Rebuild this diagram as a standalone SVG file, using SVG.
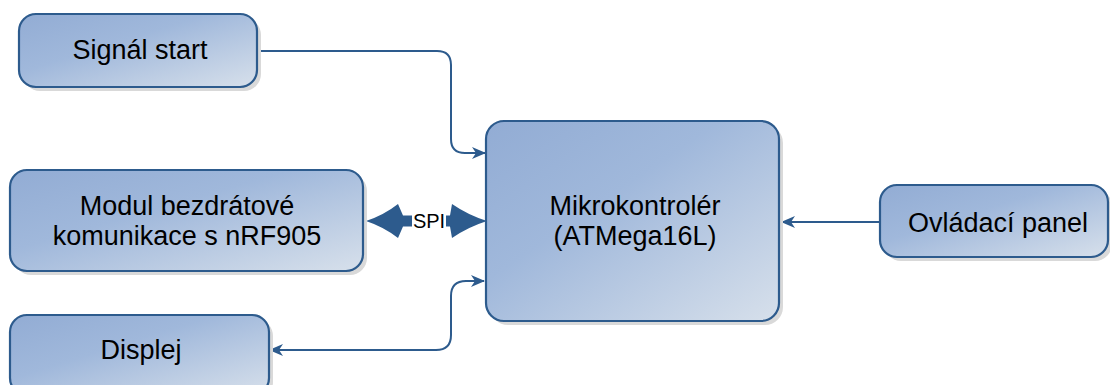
<svg xmlns="http://www.w3.org/2000/svg" width="1110" height="385" viewBox="0 0 1110 385">
<style>
.box{fill:url(#g);stroke:#2d5b8d;stroke-width:2.2}
.sh{fill:#d9d9d9}
.t{font-family:"Liberation Sans",Arial,sans-serif;font-size:27px;fill:#000;text-anchor:middle}
.c{fill:none;stroke:#2d5b8d;stroke-width:2}
</style>
<defs>
<linearGradient id="g" x1="0" y1="0" x2="1" y2="1">
<stop offset="0" stop-color="#92acd4"/>
<stop offset="0.4" stop-color="#a0b8db"/>
<stop offset="1" stop-color="#d7e0eb"/>
</linearGradient>
<marker id="a" viewBox="0 0 14 12" refX="13" refY="6" markerWidth="14" markerHeight="12" markerUnits="userSpaceOnUse" orient="auto-start-reverse">
<path d="M0,0 L14,6 L0,12 L4,6 Z" fill="#2d5b8d"/>
</marker>
</defs>
<g id="connectors">
<path class="c" d="M257,51 H437 Q451,51 451,65 V139 Q451,153 465,153 H485" marker-end="url(#a)"/>
<path class="c" d="M880,222 H782" marker-end="url(#a)"/>
<path class="c" d="M270,350 H436 Q451,350 451,335 V296 Q451,281 466,281 H484" marker-start="url(#a)" marker-end="url(#a)"/>
<g id="spi">
<path d="M366,221 Q384,215 398,204 L403,215.5 L450,215.5 L452,204 Q468,215 487,221 Q468,227 452,238 L450,226.5 L403,226.5 L398,238 Q384,227 366,221 Z" fill="#2d5b8d"/>
<rect x="412" y="208" width="34" height="24" fill="#fff"/>
<text x="429" y="228" style="font-family:'Liberation Sans',Arial,sans-serif;font-size:20px;text-anchor:middle">SPI</text>
</g>
</g>
<g id="signal">
<rect class="sh" x="23" y="18" width="238" height="73" rx="17"/>
<rect class="box" x="19" y="14" width="238" height="73" rx="17"/>
<text class="t" x="140" y="59">Signál start</text>
</g>
<g id="modul">
<rect class="sh" x="14" y="174" width="353" height="101" rx="17"/>
<rect class="box" x="10" y="170" width="353" height="101" rx="17"/>
<text class="t" x="187" y="215">Modul bezdrátové</text>
<text class="t" x="187" y="245">komunikace s nRF905</text>
</g>
<g id="displej">
<rect class="sh" x="14" y="319" width="259" height="80" rx="17"/>
<rect class="box" x="10" y="315" width="259" height="80" rx="17"/>
<text class="t" x="141" y="359">Displej</text>
</g>
<g id="mcu">
<rect class="sh" x="490" y="125" width="293" height="200" rx="18"/>
<rect class="box" x="486" y="121" width="293" height="200" rx="18"/>
<text class="t" x="635" y="215">Mikrokontrolér</text>
<text class="t" x="635" y="245">(ATMega16L)</text>
</g>
<g id="panel">
<rect class="sh" x="884" y="189" width="228" height="72" rx="17"/>
<rect class="box" x="880" y="185" width="228" height="72" rx="17"/>
<text class="t" x="998" y="232">Ovládací panel</text>
</g>
</svg>
